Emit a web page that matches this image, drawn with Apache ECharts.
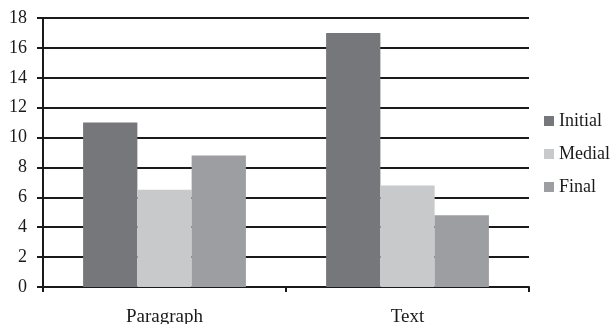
<!DOCTYPE html>
<html>
<head>
<meta charset="utf-8">
<script src="https://cdn.jsdelivr.net/npm/echarts@6/dist/echarts.min.js"></script>
<style>
  html, body { margin: 0; padding: 0; background: #fff; }
  #chart { width: 612px; height: 324px; }
</style>
</head>
<body>
<div id="chart"></div>
<script>
// Position counts by context
const categories = ['Paragraph', 'Text'];
const initialValues = [11.0, 17.0];
const medialValues = [6.5, 6.8];
const finalValues = [8.8, 4.8];
const yTicks = { min: 0, max: 18, interval: 2 };

const serif = '"Liberation Serif", "Times New Roman", serif';
const ink = '#1a1a1a';

const chart = echarts.init(document.getElementById('chart'));
chart.setOption({
  animation: false,
  backgroundColor: '#fff',
  grid: { left: 43, right: 83, top: 18, bottom: 37, containLabel: false, outerBoundsMode: 'none' },
  legend: {
    orient: 'vertical',
    left: 544,
    top: 112,
    padding: 0,
    icon: 'rect',
    itemWidth: 10,
    itemHeight: 10,
    itemGap: 15,
    textStyle: { fontFamily: serif, fontSize: 18, color: ink },
    data: ['Initial', 'Medial', 'Final']
  },
  xAxis: {
    type: 'category',
    data: categories,
    axisLine: { lineStyle: { color: ink, width: 2 } },
    axisTick: { show: true, length: 5, lineStyle: { color: ink, width: 2 } },
    axisLabel: { fontFamily: serif, fontSize: 19, color: ink, margin: 21 },
    splitLine: { show: false }
  },
  yAxis: {
    type: 'value',
    min: yTicks.min,
    max: yTicks.max,
    interval: yTicks.interval,
    axisLine: { show: true, lineStyle: { color: ink, width: 2 } },
    axisTick: { show: true, length: 6, lineStyle: { color: ink, width: 2 } },
    axisLabel: { fontFamily: serif, fontSize: 18, color: ink, margin: 16 },
    splitLine: { show: true, lineStyle: { color: ink, width: 2 } }
  },
  series: [
    { name: 'Initial', type: 'bar', data: initialValues, barGap: '0%', barCategoryGap: '33%',
      itemStyle: { color: '#76777b' } },
    { name: 'Medial', type: 'bar', data: medialValues,
      itemStyle: { color: '#c8c9cb' } },
    { name: 'Final', type: 'bar', data: finalValues,
      itemStyle: { color: '#9d9ea1' } }
  ]
});
</script>
</body>
</html>
